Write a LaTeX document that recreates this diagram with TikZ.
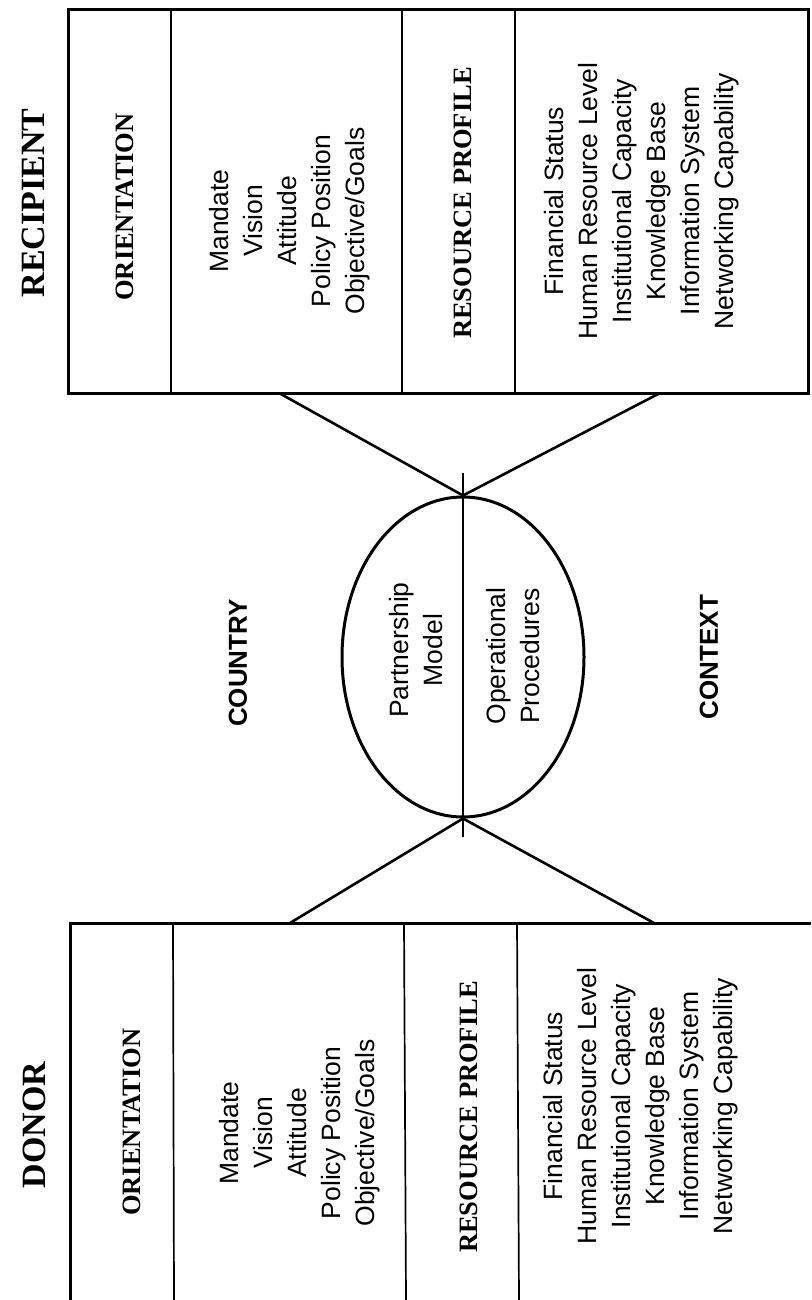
\documentclass[tikz,border=0pt]{standalone}
\usepackage{fontspec}
\setmainfont{Liberation Serif}
\setsansfont{Liberation Sans}
\usetikzlibrary{shapes.geometric}
\begin{document}
\begin{tikzpicture}[x=1pt,y=-1pt,
  outer/.style={line width=3pt},
  divider/.style={line width=1.7pt},
  connector/.style={line width=2.6pt},
  bighead/.style={font=\bfseries\fontsize{34}{40}\selectfont, rotate=90, inner sep=0},
  head/.style={font=\bfseries\fontsize{26.5}{30}\selectfont, rotate=90, inner sep=0},
  lst/.style={font=\sffamily\fontsize{26.5}{34}\selectfont, rotate=90, align=center, inner sep=0},
  ctx/.style={font=\sffamily\bfseries\fontsize{26}{30}\selectfont, rotate=90, inner sep=0}]
\useasboundingbox (0,0) rectangle (811,1300);
\fill[white] (0,0) rectangle (811,1300);

% ---------- Recipient box ----------
\draw[outer] (68,10) rectangle (808,393);
\draw[divider] (171,10) -- (171,393);
\draw[divider] (402,10) -- (402,393);
\draw[divider] (515,10) -- (515,393);

\node[bighead] (recipient) at (33,203) {RECIPIENT};
\node[head] (rorient) at (125,207) {ORIENTATION};
\node[lst] (rlist1) at (290,221) {Mandate\\Vision\\Attitude\\Policy Position\\Objective/Goals};
\node[head] (rres) at (463,203) {RESOURCE PROFILE};
\node[lst] (rlist2) at (642,201) {Financial Status\\Human Resource Level\\Institutional Capacity\\Knowledge Base\\Information System\\Networking Capability};

% ---------- Donor box ----------
\draw[outer] (70,1300) -- (70,923) -- (811,923);
\draw[divider] (173,923) -- (174,1300);
\draw[divider] (404,923) -- (406,1300);
\draw[divider] (517,923) -- (519,1300);

\node[bighead] (donor) at (34,1125) {DONOR};
\node[head] (dorient) at (132,1122) {ORIENTATION};
\node[lst] (dlist1) at (300,1133) {Mandate\\Vision\\Attitude\\Policy Position\\Objective/Goals};
\node[head] (dres) at (469,1117) {RESOURCE PROFILE};
\node[lst] (dlist2) at (641,1106) {Financial Status\\Human Resource Level\\Institutional Capacity\\Knowledge Base\\Information System\\Networking Capability};

% ---------- Central ellipse ----------
\node[draw, ellipse, line width=3pt, minimum width=242pt, minimum height=320pt, inner sep=0] (pm) at (463,657) {};
\coordinate (vtop) at (463,473);
\coordinate (vbot) at (463,837);
\draw[divider] (vtop) -- (vbot);

\node[lst] (partner) at (416,650) {Partnership\\Model};
\node[lst] (oper) at (513,656) {Operational\\Procedures};
\node[ctx] (country) at (238,663) {COUNTRY};
\node[ctx] (context) at (709,657) {CONTEXT};

% ---------- Connectors ----------
\coordinate (r1) at (279,393);
\coordinate (r2) at (660,393);
\coordinate (d1) at (290,923);
\coordinate (d2) at (654,923);
\draw[connector] (r1) -- (pm.north);
\draw[connector] (r2) -- (pm.north);
\draw[connector] (d1) -- (pm.south);
\draw[connector] (d2) -- (pm.south);
\end{tikzpicture}
\end{document}
